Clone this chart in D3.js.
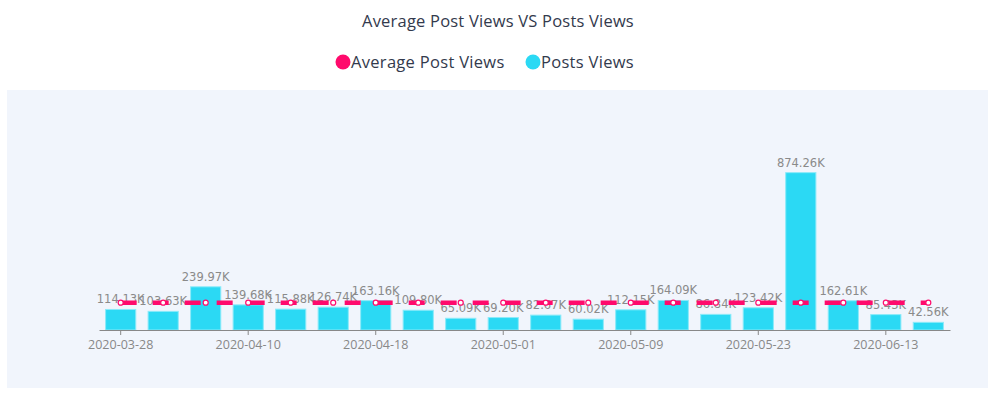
<!DOCTYPE html>
<html>
<head>
<meta charset="utf-8">
<script src="https://cdn.jsdelivr.net/npm/d3@7"></script>
<style>
  body { margin: 0; background: #fff; }
  svg { display: block; font-family: "Open Sans", Lato, sans-serif; }
</style>
</head>
<body>
<div id="viz"></div>
<script>
/* global d3 */

const dates = ['2020-03-28', '2020-04-02', '2020-04-06', '2020-04-10', '2020-04-13', '2020-04-15',
  '2020-04-18', '2020-04-22', '2020-04-26', '2020-05-01', '2020-05-03', '2020-05-06',
  '2020-05-09', '2020-05-13', '2020-05-18', '2020-05-23', '2020-05-28', '2020-06-04',
  '2020-06-13', '2020-06-18'];
const postViews = [114.13, 103.63, 239.97, 139.68, 115.88, 126.74, 163.16, 109.80, 65.09, 69.20,
  82.67, 60.02, 112.15, 164.09, 86.84, 123.42, 874.26, 162.61, 85.43, 42.56];
const avgViews = [152.07, 152.07, 152.07, 152.07, 152.07, 152.07, 152.07, 152.07, 152.07, 152.07,
  152.07, 152.07, 152.07, 152.07, 152.07, 152.07, 152.07, 152.07, 152.07, 152.07];
const tickDates = ['2020-03-28', '2020-04-10', '2020-04-18', '2020-05-01', '2020-05-09', '2020-05-23', '2020-06-13'];

const width = 995, height = 395;
const pink = '#ff0a6c', cyan = '#2bd9f4';

const svg = d3.select('#viz').append('svg')
  .attr('width', width).attr('height', height);

svg.append('rect').attr('x', 7).attr('y', 90).attr('width', 981).attr('height', 298).attr('fill', '#f1f5fc');

svg.append('text').attr('x', 498).attr('y', 27).attr('text-anchor', 'middle')
  .attr('font-size', 16.5).attr('letter-spacing', 0.2).attr('fill', '#333a4d')
  .text('Average Post Views VS Posts Views');

const legend = [{ name: 'Average Post Views', color: pink, x: 343 }, { name: 'Posts Views', color: cyan, x: 533 }];
const lg = svg.append('g').selectAll('g').data(legend).join('g')
  .attr('transform', (d) => `translate(${d.x},62)`);
lg.append('circle').attr('r', 7.5).attr('fill', (d) => d.color);
lg.append('text').attr('x', 8).attr('y', 6).attr('font-size', 16.5).attr('letter-spacing', 0.3)
  .attr('fill', '#333a4d').text((d) => d.name);

const x = d3.scaleBand().domain(dates).range([99, 950]).paddingInner(0.29).paddingOuter(0.155);
const y = d3.scaleLinear().domain([0, 1000]).range([330, 150]);

svg.append('g').selectAll('rect').data(postViews).join('rect')
  .attr('x', (d, i) => x(dates[i]))
  .attr('y', (d) => y(d))
  .attr('width', x.bandwidth())
  .attr('height', (d) => y(0) - y(d))
  .attr('fill', cyan)
  .attr('stroke', '#8beaf9').attr('stroke-width', 1);

svg.append('g').selectAll('text').data(postViews).join('text')
  .attr('x', (d, i) => x(dates[i]) + x.bandwidth() / 2)
  .attr('y', (d) => y(d) - 6)
  .attr('text-anchor', 'middle')
  .attr('font-size', 11.5)
  .attr('font-family', '"DejaVu Sans", sans-serif')
  .attr('fill', '#8a8a8a')
  .text((d) => d.toFixed(2) + 'K');

const axis = svg.append('g').attr('transform', `translate(0,${y(0)})`)
  .call(d3.axisBottom(x).tickValues(tickDates).tickSize(5).tickSizeOuter(0));
axis.select('.domain').attr('stroke', '#888');
axis.selectAll('.tick line').attr('stroke', '#888');
axis.selectAll('.tick text').attr('fill', '#888').attr('font-size', 12.5).attr('dy', '0.9em')
  .attr('font-family', '"Open Sans", Lato, sans-serif');

const cx = (i) => x(dates[i]) + x.bandwidth() / 2;
const line = d3.line().x((d, i) => cx(i)).y((d) => y(d));
svg.append('path').datum(avgViews).attr('d', line)
  .attr('fill', 'none').attr('stroke', pink).attr('stroke-width', 4.5)
  .attr('stroke-dasharray', '16 16');

svg.append('g').selectAll('circle').data(avgViews).join('circle')
  .attr('cx', (d, i) => cx(i)).attr('cy', (d) => y(d)).attr('r', 2.5)
  .attr('fill', '#fff').attr('stroke', pink).attr('stroke-width', 1.2);
</script>
</body>
</html>
